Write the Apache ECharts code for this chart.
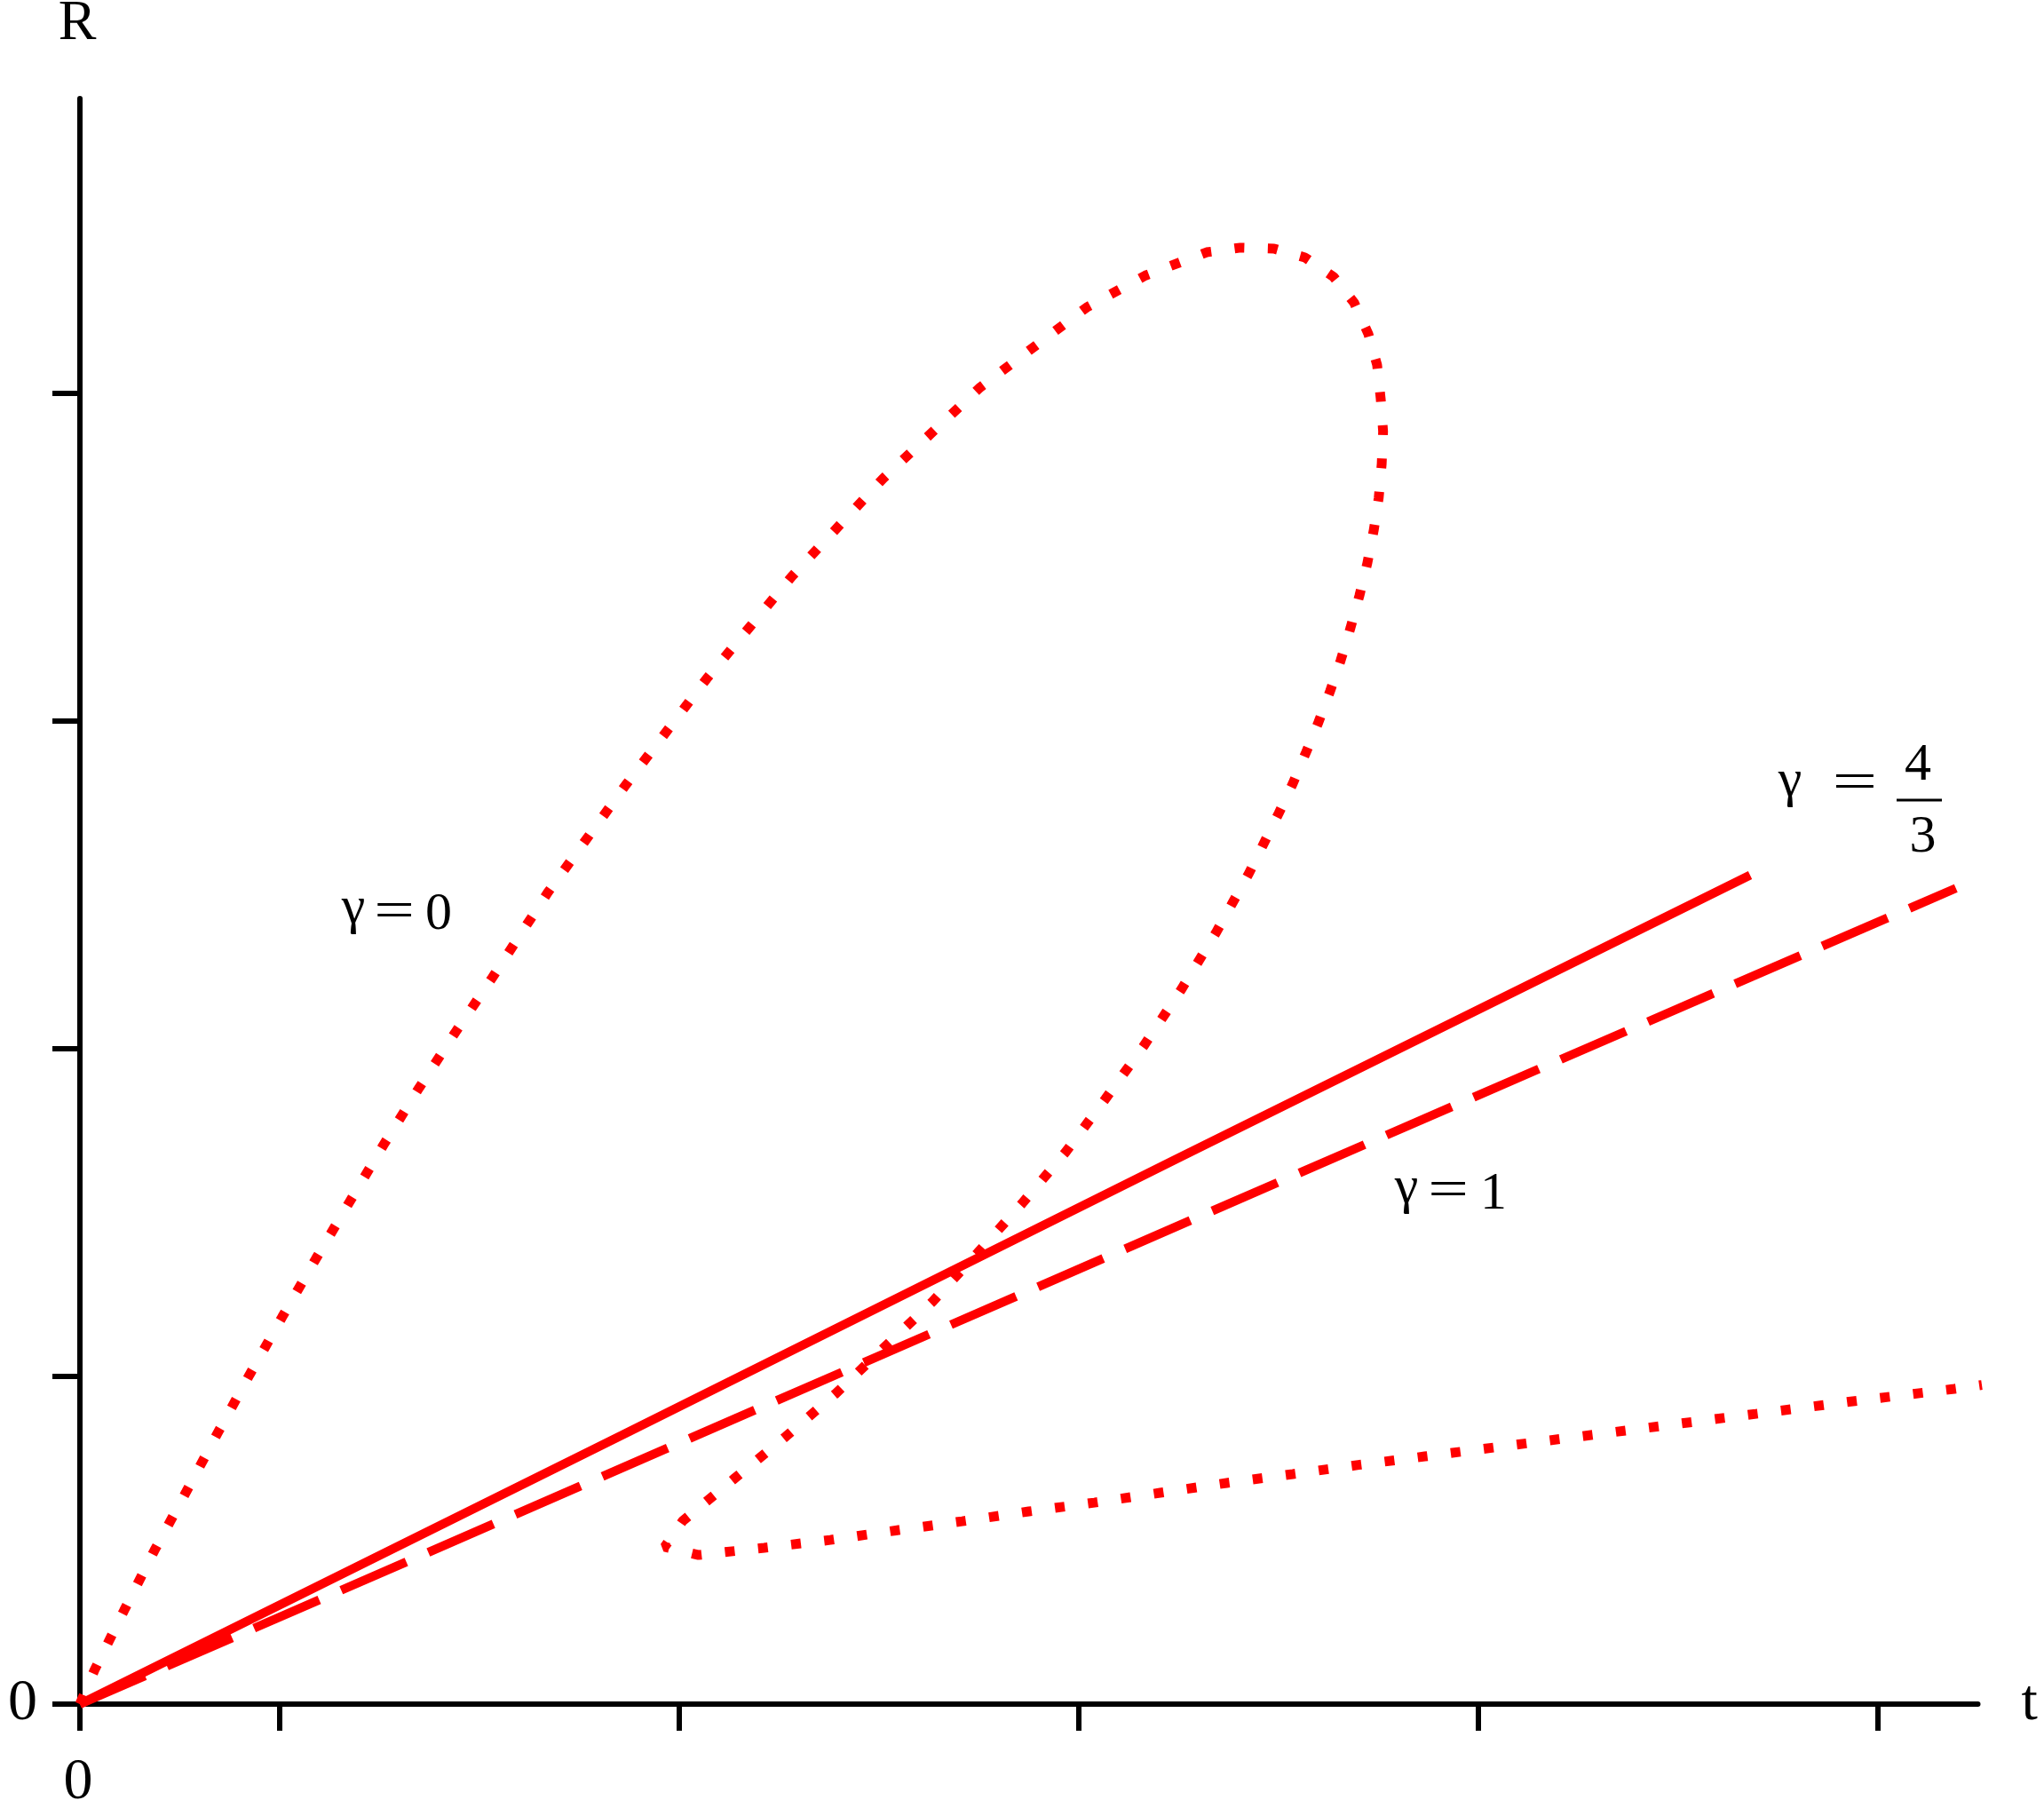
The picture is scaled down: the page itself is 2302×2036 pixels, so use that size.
<!DOCTYPE html>
<html>
<head>
<meta charset="utf-8">
<script src="https://cdn.jsdelivr.net/npm/echarts@6.0.0/dist/echarts.min.js"></script>
<style>
  html, body { margin: 0; padding: 0; background: #fff; }
  #chart { width: 2302px; height: 2036px; }
</style>
</head>
<body>
<div id="chart"></div>
<script>
// gamma = 0 curve (dotted)
const gamma0T = [0, 0.073, 0.222, 0.373, 0.532, 0.689, 0.849, 1.013, 1.18, 1.351, 1.52, 1.698, 1.88, 2.064,
  2.342, 2.733, 3.138, 3.564, 4.021, 4.507, 5.04, 5.333, 5.64, 5.809, 5.977, 6.132, 6.275, 6.378, 6.449,
  6.493, 6.511, 6.523, 6.516, 6.501, 6.476, 6.444, 6.404, 6.36, 6.31, 6.258, 6.199, 6.136, 6.07, 6.0,
  5.851, 5.687, 5.514, 5.324, 5.133, 4.933, 4.716, 4.493, 4.267, 4.025, 3.78, 3.532, 3.271, 3.016, 2.927,
  3.096, 3.425, 3.756, 4.084, 4.416, 4.75, 5.078, 5.407, 5.74, 6.071, 6.4, 6.732, 8.39, 8.884, 9.382, 9.52];
const gamma0R = [0, 0.104, 0.287, 0.469, 0.648, 0.827, 1.005, 1.182, 1.358, 1.534, 1.707, 1.881, 2.051, 2.217,
  2.477, 2.806, 3.13, 3.442, 3.741, 4.019, 4.263, 4.36, 4.431, 4.445, 4.442, 4.415, 4.356, 4.277, 4.182,
  4.087, 3.984, 3.884, 3.785, 3.681, 3.582, 3.482, 3.382, 3.285, 3.184, 3.092, 2.996, 2.903, 2.808, 2.718,
  2.535, 2.355, 2.182, 2.008, 1.847, 1.684, 1.528, 1.377, 1.228, 1.088, 0.946, 0.816, 0.686, 0.558, 0.48,
  0.455, 0.477, 0.501, 0.53, 0.558, 0.588, 0.615, 0.645, 0.675, 0.702, 0.73, 0.756, 0.886, 0.925, 0.962, 0.974];

// gamma = 1 (dashed)
const gamma1T = [0, 2.71, 6.93, 9.39];
const gamma1R = [0, 0.72, 1.84, 2.49];

// gamma = 4/3 (solid)
const gamma43T = [0, 2.71, 5.51, 8.36];
const gamma43R = [0, 0.82, 1.67, 2.53];

const xTicks = [0, 1, 3, 5, 7, 9];
const yTicks = [0, 1, 2, 3, 4];
const axisLabels = [0];

const serif = '"Liberation Serif", "DejaVu Serif", serif';
const labelFont = "60px " + serif;
const red = "#ff0000";

function pairs(xs, ys) {
  return xs.map((x, i) => [x, ys[i]]);
}

function txt(text, x, y, sx) {
  return {
    type: "text",
    x: x,
    y: y,
    scaleX: sx || 1,
    style: { text: text, font: labelFont, fill: "#000", align: "center", verticalAlign: "middle" },
  };
}

const chart = echarts.init(document.getElementById("chart"), null, { renderer: "canvas" });

const option = {
  backgroundColor: "#ffffff",
  animation: false,
  grid: {
    left: 90,
    top: 111,
    width: 2137.5,
    height: 1808,
    containLabel: false,
    outerBoundsMode: "none",
  },
  xAxis: {
    type: "value",
    min: 0,
    max: 9.5,
    name: "t",
    nameLocation: "end",
    nameGap: 49,
    nameTextStyle: {
      fontFamily: serif,
      fontSize: 66,
      color: "#000",
      verticalAlign: "middle",
      padding: [16, 0, 0, 0],
    },
    axisLine: {
      show: true,
      onZero: false,
      lineStyle: { color: "#000", width: 6 },
    },
    axisTick: {
      show: true,
      customValues: xTicks,
      length: 30,
      lineStyle: { color: "#000", width: 6 },
    },
    axisLabel: {
      customValues: axisLabels,
      fontFamily: serif,
      fontSize: 66,
      color: "#000",
      margin: 56,
      padding: [0, 4, 0, 0],
    },
    splitLine: { show: false },
  },
  yAxis: {
    type: "value",
    min: 0,
    max: 4.9,
    name: "R",
    nameLocation: "end",
    nameGap: 52,
    nameTextStyle: {
      fontFamily: serif,
      fontSize: 64,
      color: "#000",
      padding: [0, 6, 0, 0],
    },
    axisLine: {
      show: true,
      onZero: false,
      lineStyle: { color: "#000", width: 6 },
    },
    axisTick: {
      show: true,
      customValues: yTicks,
      length: 31,
      lineStyle: { color: "#000", width: 6 },
    },
    axisLabel: {
      customValues: axisLabels,
      fontFamily: serif,
      fontSize: 66,
      color: "#000",
      margin: 48,
      padding: [18, 0, 0, 0],
    },
    splitLine: { show: false },
  },
  series: [
    {
      name: "γ = 0",
      type: "line",
      data: pairs(gamma0T, gamma0R),
      showSymbol: false,
      lineStyle: { color: red, width: 11, type: [11, 26.5], cap: "butt" },
    },
    {
      name: "γ = 1",
      type: "line",
      data: pairs(gamma1T, gamma1R),
      showSymbol: false,
      lineStyle: { color: red, width: 10, type: [80, 27], cap: "butt" },
    },
    {
      name: "γ = 4/3",
      type: "line",
      data: pairs(gamma43T, gamma43R),
      showSymbol: false,
      lineStyle: { color: red, width: 10, type: "solid" },
    },
  ],
  graphic: [
    txt("γ", 398, 1023),
    txt("=", 444, 1028, 1.35),
    txt("0", 494, 1030.5),

    txt("γ", 1584, 1338),
    txt("=", 1631, 1342, 1.35),
    txt("1", 1682, 1345.5),

    txt("γ", 2016, 880.5),
    txt("=", 2089, 883, 1.5),
    txt("4", 2160, 862.5),
    {
      type: "line",
      shape: { x1: 2136, y1: 901, x2: 2187, y2: 901 },
      style: { stroke: "#000", lineWidth: 3 },
    },
    txt("3", 2165.5, 943.5),
  ],
};

chart.setOption(option);
</script>
</body>
</html>
